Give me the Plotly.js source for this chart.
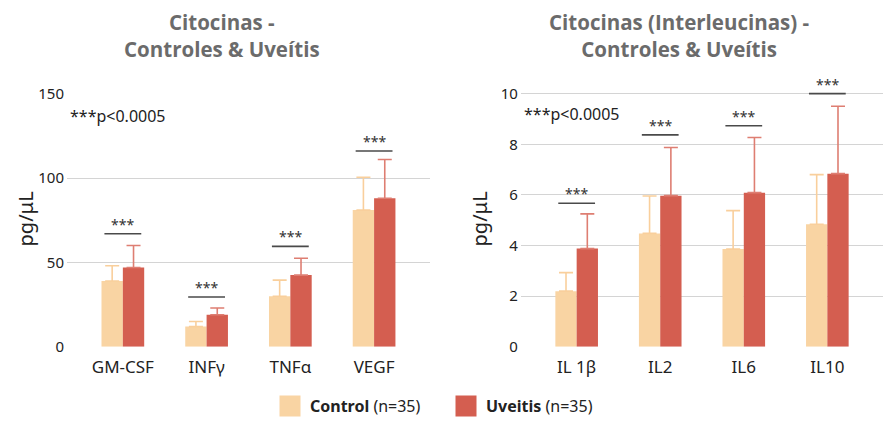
<!DOCTYPE html>
<html>
<head>
<meta charset="utf-8">
<script src="https://cdn.plot.ly/plotly-3.0.1.min.js"></script>
<style>html,body{margin:0;padding:0;background:#fff;}#chart{width:892px;height:423px;}</style>
</head>
<body>
<div id="chart"></div>
<script>
// ---- data ----
const cats1 = ['GM-CSF', 'INFγ', 'TNFα', 'VEGF'];
const control1 = [39, 12, 30, 81];
const control1Err = [9, 3, 9.5, 19.5];
const uveitis1 = [47, 19, 42.5, 88];
const uveitis1Err = [13, 4, 10, 23];
const sig1 = [67, 29.5, 59.5, 116];

const cats2 = ['IL 1β', 'IL2', 'IL6', 'IL10'];
const control2 = [2.2, 4.48, 3.86, 4.84];
const control2Err = [0.73, 1.48, 1.52, 1.96];
const uveitis2 = [3.88, 5.97, 6.09, 6.84];
const uveitis2Err = [1.37, 1.9, 2.18, 2.66];
const sig2 = [5.67, 8.37, 8.73, 10.0];

const titles = ['Citocinas -<br>Controles & Uveítis', 'Citocinas (Interleucinas) -<br>Controles & Uveítis'];
const seriesNames = ['<b>Control</b> (n=35)', '<b>Uveitis</b> (n=35)'];
const pText = '***p<0.0005';
const yTitle = 'pg/μL';

// ---- style ----
const cControl = '#f9d4a3';
const cUveitis = '#d45e50';
const cControlErr = '#f9cf9c';
const cUveitisErr = '#de7e72';
const font = 'Noto Sans, sans-serif';

function bar(x, y, err, color, errColor, xa, ya) {
  return {
    type: 'bar', x: x, y: y, xaxis: xa, yaxis: ya,
    marker: {color: color, line: {width: 0}},
    error_y: {type: 'data', array: err, arrayminus: err.map(() => 0), symmetric: false,
      color: errColor, thickness: 1.6, width: 7},
    showlegend: false, hoverinfo: 'skip'
  };
}

const traces = [
  bar(cats1, control1, control1Err, cControl, cControlErr, 'x', 'y'),
  bar(cats1, uveitis1, uveitis1Err, cUveitis, cUveitisErr, 'x', 'y'),
  bar(cats2, control2, control2Err, cControl, cControlErr, 'x2', 'y2'),
  bar(cats2, uveitis2, uveitis2Err, cUveitis, cUveitisErr, 'x2', 'y2'),
  {type: 'scatter', mode: 'markers', x: [null], y: [null], name: seriesNames[0],
   marker: {symbol: 'square', size: 16, color: cControl, line: {color: cControl, width: 8}}, xaxis: 'x', yaxis: 'y'},
  {type: 'scatter', mode: 'markers', x: [null], y: [null], name: seriesNames[1],
   marker: {symbol: 'square', size: 16, color: cUveitis, line: {color: cUveitis, width: 8}}, xaxis: 'x', yaxis: 'y'}
];

const shapes = [];
const annotations = [];
function sigMarks(cats, sig, xa, ya) {
  sig.forEach((v, i) => {
    shapes.push({type: 'line', xref: xa, yref: ya, x0: i - 0.22, x1: i + 0.22, y0: v, y1: v,
      line: {color: '#4a4a4a', width: 1.6}});
    annotations.push({xref: xa, yref: ya, x: i, y: v, text: '***', showarrow: false,
      yanchor: 'bottom', yshift: -2, font: {family: font, size: 14, color: '#333'}});
  });
}
sigMarks(cats1, sig1, 'x', 'y');
sigMarks(cats2, sig2, 'x2', 'y2');

annotations.push({xref: 'x domain', yref: 'y domain', x: 0.003, y: 0.91, xanchor: 'left', yanchor: 'middle',
  text: pText, showarrow: false, font: {family: font, size: 16, color: '#222'}});
annotations.push({xref: 'x2 domain', yref: 'y2 domain', x: 0.003, y: 0.91, xanchor: 'left', yanchor: 'middle',
  text: pText, showarrow: false, font: {family: font, size: 16, color: '#222'}});

[0.249, 0.761].forEach((px, i) => {
  annotations.push({xref: 'paper', yref: 'paper', x: px, y: 0.915, xanchor: 'center', yanchor: 'middle',
    text: titles[i], showarrow: false, align: 'center',
    font: {family: 'Open Sans, sans-serif', size: 20.5, color: '#6b6b6b', weight: 'bold'}});
});

// y axis titles
[25 / 892, 479 / 892].forEach((px) => {
  annotations.push({xref: 'paper', yref: 'paper', x: px, y: (423 - 221) / 423, xanchor: 'center', yanchor: 'middle',
    text: yTitle, textangle: -90, showarrow: false, font: {family: font, size: 20, color: '#222'}});
});

function xaxis(domain) {
  return {domain: domain, type: 'category', range: [-0.667, 3.667], showgrid: false, zeroline: false,
    showline: false, ticks: '', ticklabelstandoff: 8,
    tickfont: {family: font, size: 17, color: '#222'}, fixedrange: true};
}
function yaxis(range, dtick, domain) {
  return {domain: domain, range: range, dtick: dtick,
    showgrid: true, gridcolor: '#d4d4d4', gridwidth: 1, zeroline: false, showline: false, ticks: '',
    ticklabelstandoff: 2,
    tickfont: {family: font, size: 15, color: '#222'}, fixedrange: true};
}

const layout = {
  width: 892, height: 423,
  margin: {l: 0, r: 0, t: 0, b: 0},
  paper_bgcolor: '#fff', plot_bgcolor: '#fff',
  barmode: 'group', bargap: 0.49, bargroupgap: 0,
  xaxis: Object.assign(xaxis([0.0751, 0.482]), {anchor: 'y'}),
  yaxis: Object.assign(yaxis([0, 150], 50, [0.1742, 0.7771]), {anchor: 'x'}),
  xaxis2: Object.assign(xaxis([0.584, 0.990]), {anchor: 'y2'}),
  yaxis2: Object.assign(yaxis([0, 10.1], 2, [0.1742, 0.7831]), {anchor: 'x2'}),
  showlegend: true,
  legend: {orientation: 'h', x: 270 / 892, xanchor: 'left', y: 0.033, yanchor: 'middle',
    itemsizing: 'trace', entrywidth: 131, font: {family: font, size: 16, color: '#222'}, itemclick: false,
    itemdoubleclick: false, bgcolor: 'rgba(0,0,0,0)'},
  shapes: shapes,
  annotations: annotations
};

Plotly.newPlot('chart', traces, layout, {displayModeBar: false, staticPlot: true});
</script>
</body>
</html>
